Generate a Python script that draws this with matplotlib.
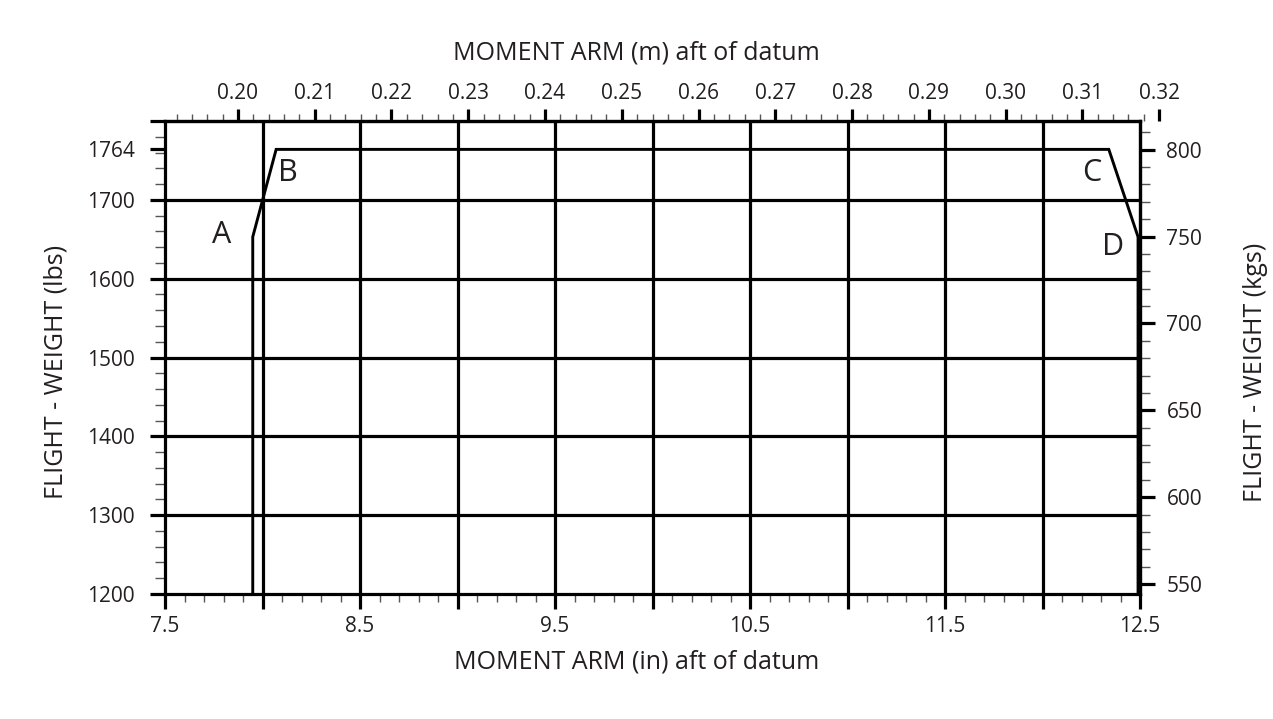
import numpy as np
import matplotlib
matplotlib.use("Agg")
import matplotlib.pyplot as plt
from matplotlib.ticker import FixedLocator, FixedFormatter, MultipleLocator, FuncFormatter

plt.rcParams['font.family'] = ['Open Sans', 'DejaVu Sans']

# ---- data ----
env_x = [7.95, 7.95, 8.07, 12.34, 12.49, 12.49]          # inches aft of datum
env_y = [1200, 1653, 1764, 1764, 1653, 1200]              # lbs
point_labels = ['A', 'B', 'C', 'D']
point_label_x = [7.79, 8.13, 12.25, 12.36]
point_label_y = [1655, 1734, 1734, 1640]
grid_x = [8.0, 8.5, 9.0, 9.5, 10.0, 10.5, 11.0, 11.5, 12.0]
grid_y = [1300, 1400, 1500, 1600, 1700]
left_ticks = [1200, 1300, 1400, 1500, 1600, 1700, 1764, 1800]
left_labels = ['1200', '1300', '1400', '1500', '1600', '1700', '1764', '']
bottom_ticks = [7.5, 8.0, 8.5, 9.0, 9.5, 10.0, 10.5, 11.0, 11.5, 12.0, 12.5]
bottom_labels = ['7.5', '', '8.5', '', '9.5', '', '10.5', '', '11.5', '', '12.5']
top_ticks = [0.20, 0.21, 0.22, 0.23, 0.24, 0.25, 0.26, 0.27, 0.28, 0.29, 0.30, 0.31, 0.32]
right_ticks = [550, 600, 650, 700, 750, 800]
IN_TO_M = 0.0254
LB_TO_KG = 0.45359237

W, H = 1273, 719
fig = plt.figure(figsize=(W / 100, H / 100), dpi=100)
fig.patch.set_facecolor('white')

L, R = 165 / W, 1140 / W
B, T = 1 - 594 / H, 1 - 121 / H
ax = fig.add_axes([L, B, R - L, T - B])
ax.set_xlim(7.5, 12.5)
ax.set_ylim(1200, 1800)

txtc = '#231f20'
lw = 2.3
tick_fs = 15
title_fs = 18

for s in ax.spines.values():
    s.set_linewidth(lw)
    s.set_color('black')

for gx in grid_x:
    ax.axvline(gx, color='black', lw=lw, zorder=2)
for gy in grid_y:
    ax.axhline(gy, color='black', lw=lw, zorder=2)

ax.plot(env_x, env_y, color='black', lw=2.1, zorder=3, solid_joinstyle='miter')

for lab, lx, ly in zip(point_labels, point_label_x, point_label_y):
    ax.text(lx, ly, lab, fontsize=22, color=txtc, ha='center', va='center', zorder=4)

# bottom axis
ax.xaxis.set_major_locator(FixedLocator(bottom_ticks))
ax.xaxis.set_major_formatter(FixedFormatter(bottom_labels))
ax.xaxis.set_minor_locator(MultipleLocator(0.1))
ax.tick_params(axis='x', which='major', direction='out', length=11, width=lw,
               pad=5, labelsize=tick_fs, labelcolor=txtc)
ax.tick_params(axis='x', which='minor', direction='out', length=6, width=1.0, color='#555555')

# left axis
ax.yaxis.set_major_locator(FixedLocator(left_ticks))
ax.yaxis.set_major_formatter(FixedFormatter(left_labels))
ax.yaxis.set_minor_locator(MultipleLocator(20))
ax.tick_params(axis='y', which='major', direction='out', length=10.5, width=lw,
               pad=11, labelsize=tick_fs, labelcolor=txtc)
ax.tick_params(axis='y', which='minor', direction='out', length=7, width=1.0, color='#555555')
for t in ax.yaxis.get_major_ticks():
    if abs(t.get_loc() - 1764) < 1e-6:
        t.tick1line.set_visible(False)

# right axis (kgs)
sec = ax.secondary_yaxis('right', functions=(lambda y: y * LB_TO_KG, lambda k: k / LB_TO_KG))
sec.yaxis.set_major_locator(FixedLocator(right_ticks))
sec.yaxis.set_minor_locator(MultipleLocator(10))
sec.spines['right'].set_linewidth(lw)
sec.tick_params(axis='y', which='major', direction='out', length=11, width=lw,
                pad=8, labelsize=tick_fs, labelcolor=txtc)
sec.tick_params(axis='y', which='minor', direction='out', length=7, width=1.0, color='#555555')

# top axis (metres), extends slightly beyond the box to show 0.32
R2 = 1175 / W
px_per_in = (R - L) / 5.0
top_right_in = 7.5 + (R2 - L) / px_per_in
axt = fig.add_axes([L, B, R2 - L, T - B])
axt.patch.set_visible(False)
axt.set_xlim(7.5 * IN_TO_M, top_right_in * IN_TO_M)
axt.set_ylim(0, 1)
for k in ['left', 'right', 'bottom']:
    axt.spines[k].set_visible(False)
axt.spines['top'].set_bounds(7.5 * IN_TO_M, 12.5 * IN_TO_M)
axt.spines['top'].set_linewidth(lw)
axt.yaxis.set_visible(False)
axt.xaxis.tick_top()
axt.xaxis.set_major_locator(FixedLocator(top_ticks))
axt.xaxis.set_major_formatter(FuncFormatter(lambda v, p: f"{v:.2f}"))
axt.xaxis.set_minor_locator(FixedLocator(np.arange(0.192, 0.3185, 0.002)))
axt.tick_params(axis='x', which='major', direction='out', length=9, width=lw,
                pad=3, labelsize=tick_fs, labelcolor=txtc, top=True, bottom=False)
axt.tick_params(axis='x', which='minor', direction='out', length=5, width=1.0,
                color='#555555', top=True, bottom=False)

# axis titles
fig.text(0.5, 1 - 53 / H, 'MOMENT ARM (m) aft of datum', fontsize=title_fs, color=txtc,
         ha='center', va='center')
fig.text(0.5, 1 - 662 / H, 'MOMENT ARM (in) aft of datum', fontsize=title_fs, color=txtc,
         ha='center', va='center')
fig.text(56 / W, 1 - 372 / H, 'FLIGHT - WEIGHT (lbs)', fontsize=title_fs, color=txtc,
         ha='center', va='center', rotation=90)
fig.text(1256 / W, 1 - 372 / H, 'FLIGHT - WEIGHT (kgs)', fontsize=title_fs, color=txtc,
         ha='center', va='center', rotation=90)

fig.savefig('out.png', dpi=100, facecolor='white')
